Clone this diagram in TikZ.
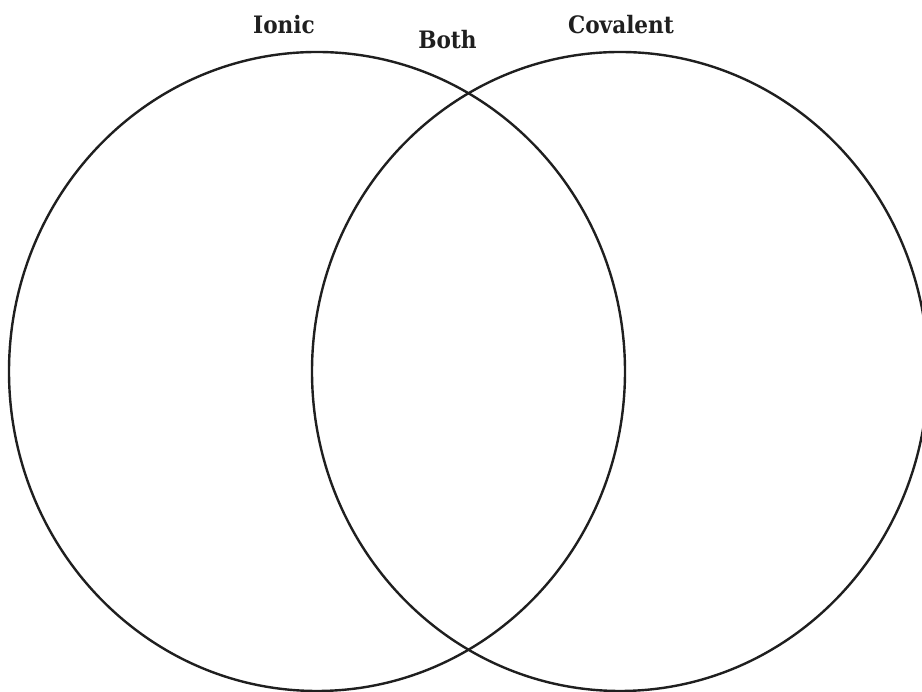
\documentclass[tikz,border=0pt]{standalone}
\usepackage{fontspec}
\setmainfont{DejaVu Serif}
\usetikzlibrary{shapes.geometric}
\begin{document}
\begin{tikzpicture}[x=1pt,y=1pt,
  setcirc/.style={draw=black!88, line width=2.4pt, ellipse, inner sep=0pt,
    minimum width=616pt, minimum height=639pt},
  setlabel/.style={font=\fontsize{24}{27}\selectfont\bfseries, text=black!88, inner sep=0pt, xscale=0.9}]
\useasboundingbox (0,0) rectangle (922,692);
\node[setcirc] (ionic) at (317,320.5) {};
\node[setcirc] (covalent) at (620,320.5) {};
\node[setlabel] (ionicl) at (284,667) {Ionic};
\node[setlabel] (bothl) at (447.5,652) {Both};
\node[setlabel] (covl) at (621,667) {Covalent};
\end{tikzpicture}
\end{document}
